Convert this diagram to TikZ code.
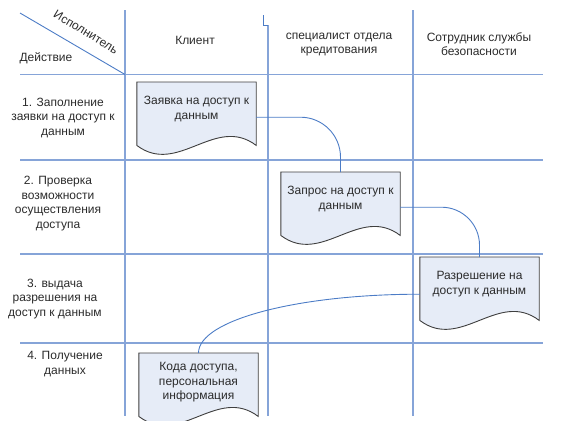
\documentclass[tikz,border=0pt]{standalone}
\usepackage{fontspec}
\setmainfont{Liberation Sans}
\usetikzlibrary{calc}

\definecolor{gridblue}{HTML}{86A4D8}
\definecolor{flowblue}{HTML}{4C7CC6}
\definecolor{docfill}{HTML}{E6ECF7}
\definecolor{docedge}{HTML}{3F3F3F}
\definecolor{ink}{HTML}{2B2B2B}

% document symbol: straight top and sides, wavy bottom edge
\newcommand\docoutline[1]{%
  \draw[docline] ([yshift=7pt]#1.south west) -- (#1.north west) -- (#1.north east)
    -- ([yshift=7pt]#1.south east)
    .. controls +(-41,-31) and +(41,31) .. ([yshift=7pt]#1.south west) -- cycle;}

\begin{document}
\begin{tikzpicture}[x=1pt,y=-1pt,
  gridline/.style={draw=gridblue, line width=1.3pt},
  flow/.style={draw=flowblue, line width=0.9pt},
  lbl/.style={text=ink, font=\fontsize{12}{14.5}\selectfont, align=center, inner sep=0pt},
  doc/.style={minimum width=119pt, minimum height=70pt, inner sep=0pt, anchor=north},
  docline/.style={draw=docedge, fill=docfill, line width=0.9pt},
]
\useasboundingbox (0,0) rectangle (566,421);
\clip (0,0) rectangle (566,421);

% table grid
\draw[gridline] (20,74.5) -- (543,74.5);
\draw[gridline] (20,160) -- (543,160);
\draw[gridline] (20,254) -- (543,254);
\draw[gridline] (20,343) -- (543,343);
\draw[gridline] (125,10) -- (125,416);
\draw[gridline] (268,25) -- (268,416);
\draw[gridline] (413,10) -- (413,416);
\draw[flow] (263,15) -- (263,25) -- (268,25);
\draw[flow] (20,13) -- (125,74.5);

% header cells
\node[lbl, rotate=-31] (hexec) at (86,32) {Исполнитель};
\node[lbl] (hact) at (46,58) {Действие};
\node[lbl] (hclient) at (195,40) {Клиент};
\node[lbl] (hcredit) at (339,44.5) {специалист отдела\\кредитования};
\node[lbl] (hsec) at (479,44) {Сотрудник службы\\безопасности};

% row labels
\node[lbl] (r1) at (63,118) {1. Заполнение\\заявки на доступ к\\данным};
\node[lbl] (r2) at (58,203.5) {2. Проверка\\возможности\\осуществления\\доступа};
\node[lbl] (r3) at (55,299) {3. выдача\\разрешения на\\доступ к данным};
\node[lbl] (r4) at (65,364) {4. Получение\\данных};

% documents
\node[doc] (d1) at (196.5,82) {};
\node[doc] (d2) at (340.5,172) {};
\node[doc] (d3) at (479.5,257) {};
\node[doc] (d4) at (198.5,353) {};
\docoutline{d1}
\docoutline{d2}
\docoutline{d3}
\docoutline{d4}

\node[lbl] (d1t) at ([yshift=8pt]d1.center) {Заявка на доступ к\\данным};
\node[lbl] (d2t) at ([yshift=8pt]d2.center) {Запрос на доступ к\\данным};
\node[lbl] (d3t) at ([yshift=8pt]d3.center) {Разрешение на\\доступ к данным};
\node[lbl] (d4t) at ([yshift=6pt]d4.center) {Кода доступа,\\персональная\\информация};

% flow between documents
\draw[flow, rounded corners=40pt] (d1.east) -| (d2.north);
\draw[flow, rounded corners=38pt] (d2.east) -| (d3.north);
\draw[flow] ([yshift=-2pt]d3.west) .. controls +(-122,0) and +(0,-33) .. (d4.north);
\end{tikzpicture}
\end{document}
